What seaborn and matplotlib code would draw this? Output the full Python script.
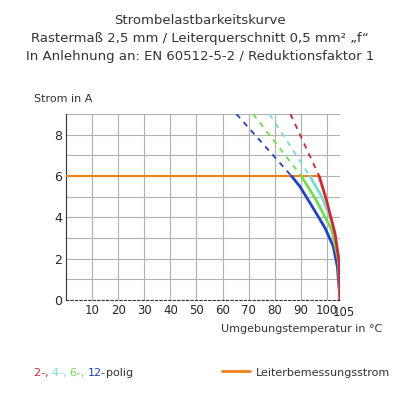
import matplotlib
matplotlib.use("Agg")
import matplotlib.pyplot as plt
import seaborn as sns

sns.set_style("white")
plt.rcParams['font.family'] = ['DejaVu Sans']

# solid curves (temperature, current)
blue_x = [86.4, 89.6, 93.5, 99.2, 102.4, 104.0, 105.0]
blue_y = [6.0, 5.5, 4.7, 3.5, 2.6, 1.6, 0.0]
green_x = [90.2, 96.0, 101.8, 104.4, 105.0]
green_y = [6.0, 4.8, 3.4, 1.9, 0.0]
cyan_x = [93.4, 98.0, 102.4, 104.7, 105.0]
cyan_y = [6.0, 5.0, 3.6, 1.9, 0.0]
red_x = [97.0, 99.9, 103.1, 104.7, 105.0]
red_y = [6.0, 4.8, 3.2, 1.8, 0.0]
# dashed extensions: top x at I=9
dash_top_x = {"blue": 65.3, "green": 71.7, "cyan": 78.0, "red": 86.0}
rated_current = 6.0
xticks = [10, 20, 30, 40, 50, 60, 70, 80, 90, 100]
yticks = [0, 2, 4, 6, 8]

cols = {"red": "#e0202a", "cyan": "#6fe0d8", "green": "#6ee04a", "blue": "#1f3fd0"}
orange = "#f07f1a"

fig = plt.figure(figsize=(4, 4), dpi=100)
ax = fig.add_axes([0.165, 0.25, 0.685, 0.465])
ax.set_xlim(0, 105)
ax.set_ylim(0, 9)
ax.set_xticks(xticks)
ax.set_yticks(range(0, 10))
ax.set_yticklabels([str(v) if v in yticks else "" for v in range(0, 10)], fontsize=9)
ax.set_xticklabels([str(v) for v in xticks], fontsize=8.5)
ax.text(106.5, -0.28, "105", ha="center", va="top", fontsize=8.5)
ax.grid(True, color="#b0b0b0", lw=0.8)
ax.tick_params(length=0, pad=3)
for s in ["top", "right"]:
    ax.spines[s].set_visible(False)
ax.spines["left"].set_color("#333")
ax.spines["bottom"].set_color("#333")
ax.spines["bottom"].set_linestyle((0, (2, 2)))

ax.axhline(rated_current, xmin=0, xmax=97 / 105, color=orange, lw=1.5, zorder=3)
for name, xs, ys in [("blue", blue_x, blue_y), ("green", green_x, green_y),
                     ("cyan", cyan_x, cyan_y), ("red", red_x, red_y)]:
    sns.lineplot(x=[dash_top_x[name], xs[0]], y=[9, ys[0]], ax=ax, color=cols[name],
                 lw=1.3, linestyle=(0, (3, 3)), sort=False)
    sns.lineplot(x=xs, y=ys, ax=ax, color=cols[name], lw=2, sort=False, zorder=4)
ax.set_xlabel("")
ax.set_ylabel("")

fig.text(0.5, 0.94, "Strombelastbarkeitskurve", ha="center", fontsize=9.5, color="#333")
fig.text(0.5, 0.895, "Rastermaß 2,5 mm / Leiterquerschnitt 0,5 mm² „f“", ha="center", fontsize=9.5, color="#333")
fig.text(0.5, 0.85, "In Anlehnung an: EN 60512-5-2 / Reduktionsfaktor 1", ha="center", fontsize=9.5, color="#333")
fig.text(0.085, 0.745, "Strom in A", fontsize=8, color="#333")
fig.text(0.955, 0.17, "Umgebungstemperatur in °C", ha="right", fontsize=8, color="#333")

y0 = 0.06
x = 0.085
for t, c in [("2-, ", cols["red"]), ("4-, ", cols["cyan"]), ("6-, ", cols["green"]), ("12-", cols["blue"]), ("polig", "#333")]:
    tx = fig.text(x, y0, t, fontsize=8, color=c)
    fig.canvas.draw()
    bb = tx.get_window_extent()
    x += bb.width / fig.bbox.width
fig.add_artist(plt.Line2D([0.555, 0.625], [0.073, 0.073], color=orange, lw=2))
fig.text(0.64, y0, "Leiterbemessungsstrom", fontsize=8, color="#333")

fig.savefig("out.png", dpi=100)
